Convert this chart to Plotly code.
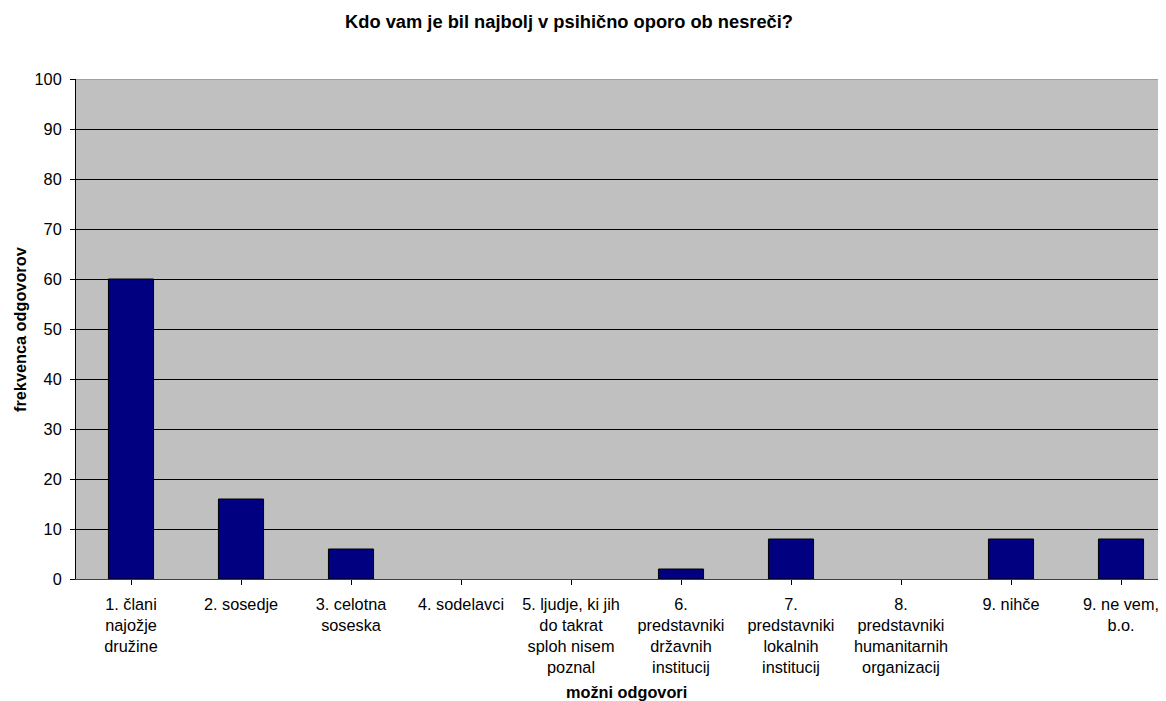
import plotly.graph_objects as go

categories = [
    "1. člani<br>najožje<br>družine",
    "2. sosedje",
    "3. celotna<br>soseska",
    "4. sodelavci",
    "5. ljudje, ki jih<br>do takrat<br>sploh nisem<br>poznal",
    "6.<br>predstavniki<br>državnih<br>institucij",
    "7.<br>predstavniki<br>lokalnih<br>institucij",
    "8.<br>predstavniki<br>humanitarnih<br>organizacij",
    "9. nihče",
    "9. ne vem,<br>b.o.",
]
frekvenca = [60, 16, 6, 0, 0, 2, 8, 0, 8, 8]
y_ticks = list(range(0, 101, 10))

FONT = "Liberation Sans, Arial, sans-serif"
FS = 16.3

bars = go.Bar(
    x=list(range(len(categories))),
    y=frekvenca,
    width=0.41,
    marker=dict(
        color="#000080",
        line=dict(color="black", width=[1 if v else 0 for v in frekvenca]),
    ),
    showlegend=False,
)

fig = go.Figure(data=[bars])

# page body adds an 8px margin, so the figure is 8px smaller than the window
fig.update_layout(
    width=1158,
    height=693,
    margin=dict(l=68, r=0, t=71, b=122),
    paper_bgcolor="white",
    plot_bgcolor="#C0C0C0",
    font=dict(family=FONT, size=FS, color="black"),
    title=dict(
        text="<b>Kdo vam je bil najbolj v psihično oporo ob nesreči?</b>",
        x=0.4845, xanchor="center", y=0.981, yanchor="middle",
        font=dict(size=18.3),
    ),
)

fig.update_xaxes(
    range=[-0.5, -0.5 + 1090 / 110],
    tickmode="array",
    tickvals=list(range(len(categories))),
    ticktext=categories,
    ticks="outside",
    ticklen=5,
    tickcolor="black",
    ticklabelstandoff=5,
    showgrid=False,
    showline=True,
    linecolor="#404040",
    linewidth=1,
    zeroline=False,
    automargin=False,
    tickfont=dict(size=FS),
)

fig.update_yaxes(
    range=[0, 100],
    tickvals=y_ticks,
    ticks="outside",
    ticklen=5,
    tickcolor="black",
    ticklabelstandoff=5,
    showgrid=True,
    gridcolor="black",
    gridwidth=1,
    showline=True,
    linecolor="black",
    linewidth=1,
    zeroline=False,
    automargin=False,
    tickfont=dict(size=FS),
)

# axis titles
fig.add_annotation(text="<b>možni odgovori</b>", xref="paper", yref="paper",
                   x=550 / 1090, y=-0.226, showarrow=False,
                   xanchor="center", yanchor="middle", font=dict(size=FS))
fig.add_annotation(text="<b>frekvenca odgovorov</b>", xref="paper", yref="paper",
                   x=-0.0514, y=0.5, showarrow=False, textangle=-90,
                   xanchor="center", yanchor="middle", font=dict(size=FS))

# grey top border of the plot area
fig.add_shape(type="line", xref="paper", yref="y", x0=0, x1=1, y0=100, y1=100,
              line=dict(color="#808080", width=1), layer="above")

fig.write_html("out.html")
